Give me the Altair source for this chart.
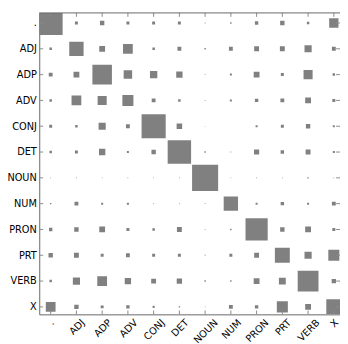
import altair as alt
import pandas as pd

# Part-of-speech tags (rows = true tag, columns = predicted tag)
tags = [".", "ADJ", "ADP", "ADV", "CONJ", "DET", "NOUN", "NUM", "PRON", "PRT", "VERB", "X"]

# Hinton weights (square area relative to the largest)
w_dot  = [0.842, 0.013, 0.028, 0.013, 0.013, 0.013, 0.001, 0.003, 0.017, 0.028, 0.009, 0.127]
w_adj  = [0.009, 0.303, 0.050, 0.140, 0.009, 0.022, 0.003, 0.022, 0.035, 0.035, 0.075, 0.022]
w_adp  = [0.022, 0.050, 0.561, 0.106, 0.079, 0.059, 0.001, 0.006, 0.050, 0.013, 0.121, 0.009]
w_adv  = [0.009, 0.140, 0.121, 0.179, 0.022, 0.009, 0.001, 0.006, 0.017, 0.022, 0.050, 0.013]
w_conj = [0.013, 0.009, 0.075, 0.022, 0.856, 0.045, 0.0007, 0.0, 0.006, 0.013, 0.028, 0.006]
w_det  = [0.009, 0.013, 0.059, 0.006, 0.028, 0.808, 0.003, 0.001, 0.039, 0.017, 0.035, 0.006]
w_noun = [0.0007, 0.001, 0.0007, 0.001, 0.0007, 0.001, 1.0, 0.0007, 0.001, 0.0007, 0.003, 0.001]
w_num  = [0.003, 0.022, 0.006, 0.006, 0.001, 0.001, 0.001, 0.303, 0.006, 0.017, 0.006, 0.022]
w_pron = [0.017, 0.028, 0.050, 0.013, 0.009, 0.035, 0.001, 0.003, 0.723, 0.028, 0.050, 0.013]
w_prt  = [0.028, 0.035, 0.013, 0.022, 0.013, 0.013, 0.001, 0.013, 0.035, 0.328, 0.075, 0.179]
w_verb = [0.009, 0.075, 0.140, 0.059, 0.035, 0.042, 0.003, 0.003, 0.050, 0.069, 0.636, 0.028]
w_x    = [0.140, 0.028, 0.013, 0.017, 0.006, 0.003, 0.0007, 0.022, 0.017, 0.179, 0.050, 0.333]

rows = [w_dot, w_adj, w_adp, w_adv, w_conj, w_det, w_noun, w_num, w_pron, w_prt, w_verb, w_x]

records = []
for i, r in enumerate(rows):
    for j, v in enumerate(r):
        records.append({"true": tags[i], "pred": tags[j], "row": i, "col": j, "weight": v})
df = pd.DataFrame(records)
tick_df = pd.DataFrame({"idx": list(range(len(tags)))})
one = pd.DataFrame({"k": [0]})

W, H = 308, 308.7
SPINE = "#666666"
TICK = "#8a8a8a"
SQ = "#808080"

xscale = alt.Scale(domain=[-0.444, 11.24], nice=False, zero=False)
yscale = alt.Scale(domain=[-0.39, 11.29], nice=False, zero=False, reverse=True)

label_expr = "[" + ",".join("'" + t + "'" for t in tags) + "][datum.value]"

# approximate DejaVu Sans advance widths (em): shift each 45-degree label so that
# its rotated box is centred on its tick, as in the reference
cw = {".": 0.318, "A": 0.684, "B": 0.686, "C": 0.698, "D": 0.770, "E": 0.632, "J": 0.295,
      "M": 0.863, "N": 0.748, "O": 0.787, "P": 0.603, "R": 0.695, "T": 0.611, "U": 0.732,
      "V": 0.684, "X": 0.685}
conds = []
for i, t in enumerate(tags):
    wpx = sum(cw.get(c, 0.65) for c in t) * 10
    off = 0.354 * wpx - 3.2
    conds.append({"test": f"datum.value == {i}", "value": round(off, 2)})

xaxis = alt.Axis(values=list(range(len(tags))), labelExpr=label_expr, labelAngle=-45,
                 labelAlign="right", labelBaseline="top", labelPadding=3,
                 labelOffset={"condition": conds, "value": 0},
                 ticks=False, tickSize=0, grid=False, domain=True, domainColor=SPINE,
                 domainWidth=1, title=None, labelFlush=False, labelOverlap=False, labelBound=False)
yaxis = alt.Axis(values=list(range(len(tags))), labelExpr=label_expr, labelPadding=3,
                 ticks=False, tickSize=0, grid=False, domain=True, domainColor=SPINE,
                 domainWidth=1, title=None, labelFlush=False, labelOverlap=False)

squares = alt.Chart(df).mark_square(color=SQ, opacity=1, strokeWidth=0, clip=True).encode(
    x=alt.X("col:Q", scale=xscale, axis=xaxis),
    y=alt.Y("row:Q", scale=yscale, axis=yaxis),
    size=alt.Size("weight:Q", scale=alt.Scale(domain=[0, 1], range=[0, 713]), legend=None),
)

top_ticks = alt.Chart(tick_df).mark_rule(color=TICK, strokeWidth=1).encode(
    x=alt.X("idx:Q", scale=xscale, axis=xaxis), y=alt.value(0), y2=alt.value(4))
bottom_ticks = alt.Chart(tick_df).mark_rule(color=TICK, strokeWidth=1).encode(
    x=alt.X("idx:Q", scale=xscale, axis=xaxis), y=alt.value(H), y2=alt.value(H - 4))
left_ticks = alt.Chart(tick_df).mark_rule(color=TICK, strokeWidth=1).encode(
    y=alt.Y("idx:Q", scale=yscale, axis=yaxis), x=alt.value(0), x2=alt.value(4))
right_ticks = alt.Chart(tick_df).mark_rule(color=TICK, strokeWidth=1).encode(
    y=alt.Y("idx:Q", scale=yscale, axis=yaxis), x=alt.value(W - 4), x2=alt.value(W))
top_spine = alt.Chart(one).mark_rule(color=SPINE, strokeWidth=1).encode(
    x=alt.value(0), x2=alt.value(W), y=alt.value(0))

chart = alt.layer(squares, top_ticks, bottom_ticks, left_ticks, right_ticks, top_spine).properties(
    width=W, height=H,
    autosize=alt.AutoSizeParams(type="none"),
    padding={"left": 32, "top": 1, "right": 0, "bottom": round(336 - 1 - H, 1)},
).configure_view(stroke=None).configure_axis(
    labelFont="DejaVu Sans", labelFontSize=10, labelColor="black"
)

chart.save("out.html", embed_options={"renderer": "svg", "actions": False})
